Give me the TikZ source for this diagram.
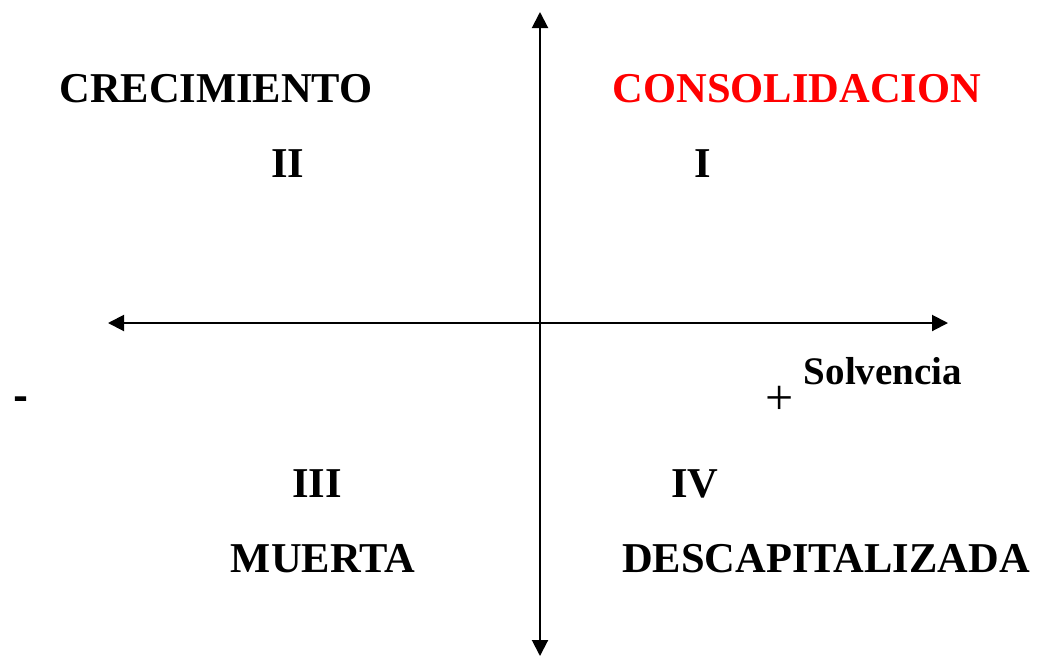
\documentclass[tikz,border=0pt]{standalone}
\usepackage{fontspec}
\setmainfont{Liberation Serif}
\newfontfamily\heavyfont[FakeBold=2.5]{Liberation Serif Bold}
\usetikzlibrary{arrows.meta}
\begin{document}
\begin{tikzpicture}[x=1pt,y=-1pt,
  lbl/.style={anchor=base,inner sep=0pt,font=\fontsize{42.5}{50}\selectfont\bfseries},
  small/.style={anchor=base,inner sep=0pt,font=\fontsize{39}{46}\selectfont\bfseries},
  axis/.style={line width=2pt,-{Triangle[length=16pt,width=16pt]}}]
\useasboundingbox (0,0) rectangle (1038,657);
\coordinate (O) at (540,323);
\coordinate (L) at (108,323);
\coordinate (R) at (948,323);
\coordinate (T) at (540,12);
\coordinate (B) at (540,656);
\draw[axis] (O) -- (L);
\draw[axis] (O) -- (R);
\draw[axis] (O) -- (T);
\draw[axis] (O) -- (B);
\node[lbl] (crec) at (216,102) {CRECIMIENTO};
\node[lbl,text={rgb,255:red,255;green,0;blue,0}] (cons) at (797,102) {CONSOLIDACION};
\node[lbl] (q2) at (288,177) {II};
\node[lbl] (q1) at (703,177) {I};
\node[lbl] (q3) at (317,497) {III};
\node[lbl] (q4) at (695,497) {IV};
\node[lbl] (muer) at (323,572) {MUERTA};
\node[lbl] (desc) at (826,572) {DESCAPITALIZADA};
\node[small] (solv) at (883,384) {Solvencia};
\node[inner sep=0pt,font=\fontsize{50}{56}\selectfont] (plus) at (780,400) {+};
\node[anchor=base,inner sep=0pt,font=\fontsize{40}{48}\heavyfont] (minus) at (20.5,408) {-};
\end{tikzpicture}
\end{document}
